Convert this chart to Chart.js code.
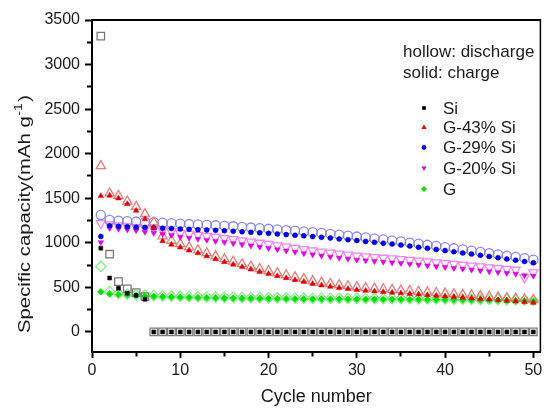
<!DOCTYPE html>
<html>
<head>
<meta charset="utf-8">
<script src="https://cdn.jsdelivr.net/npm/chart.js@4/dist/chart.umd.min.js"></script>
<style>
html,body{margin:0;padding:0;background:#fff;}
#wrap{width:547px;height:408px;}
</style>
</head>
<body>
<div id="wrap"><canvas id="c" width="547" height="408"></canvas></div>
<script>
// ---------- data ----------
const cycles = [1,2,3,4,5,6,7,8,9,10,11,12,13,14,15,16,17,18,19,20,21,22,23,24,25,26,27,28,29,30,31,32,33,34,35,36,37,38,39,40,41,42,43,44,45,46,47,48,49,50];

const siDischarge = [3320,872,565,483,441,396,0,0,0,0,0,0,0,0,0,0,0,0,0,0,0,0,0,0,0,0,0,0,0,0,0,0,0,0,0,0,0,0,0,0,0,0,0,0,0,0,0,0,0,0];
const siCharge    = [940,605,490,434,412,367,0,0,0,0,0,0,0,0,0,0,0,0,0,0,0,0,0,0,0,0,0,0,0,0,0,0,0,0,0,0,0,0,0,0,0,0,0,0,0,0,0,0,0,0];

const g43Discharge = [1863,1556,1530,1465,1405,1325,1230,1075,1025,988,950,918,885,850,818,790,762,735,708,685,660,638,615,595,572,555,540,527,515,503,495,488,481,474,467,460,453,446,439,432,425,418,411,404,397,390,383,376,369,360];
const g43Charge    = [1526,1530,1500,1436,1361,1265,1171,1020,980,950,915,884,851,817,785,757,729,702,675,652,627,605,583,563,540,523,508,495,483,471,463,456,449,442,435,428,421,414,407,400,393,386,379,372,365,358,351,344,337,328];

const g29Discharge = [1313,1257,1248,1242,1238,1234,1230,1225,1220,1215,1210,1205,1200,1196,1191,1185,1178,1171,1164,1157,1150,1142,1135,1127,1118,1110,1100,1090,1080,1070,1059,1048,1037,1026,1015,1002,990,977,964,951,938,925,912,898,884,870,856,842,828,810];
const g29Charge    = [1072,1192,1185,1180,1176,1172,1168,1164,1160,1156,1152,1148,1144,1140,1136,1130,1124,1118,1112,1106,1099,1092,1085,1078,1070,1062,1053,1044,1035,1026,1016,1006,996,986,975,963,951,939,926,913,900,887,874,861,847,833,819,805,791,775];

const g20Discharge = [1220,1205,1195,1186,1177,1166,1155,1143,1130,1110,1099,1088,1076,1064,1052,1039,1026,1012,999,985,970,956,942,927,913,900,888,876,865,854,846,838,831,823,816,807,798,789,780,771,761,752,742,733,723,714,705,696,610,667];
const g20Charge    = [1006,1163,1155,1147,1138,1121,1110,1098,1085,1066,1054,1043,1031,1019,1007,994,981,967,954,940,925,911,897,882,868,855,843,831,820,809,801,793,786,778,771,762,753,744,735,726,716,707,697,688,678,669,660,651,635,628];

const gDischarge = [735,452,432,423,418,412,408,404,401,398,396,394,392,391,389,388,386,385,384,383,382,381,380,379,378,378,377,377,376,376,375,375,374,374,373,373,372,372,371,370,369,368,367,366,365,363,361,359,356,353];
const gCharge    = [450,428,421,415,410,404,400,396,393,390,388,386,384,383,381,380,378,377,376,375,374,373,372,371,370,370,369,369,368,368,367,367,366,366,365,365,364,364,363,362,361,360,359,358,357,355,353,351,348,345];

const seriesNames = ['Si','G-43% Si','G-29% Si','G-20% Si','G'];
const legendNotes = ['hollow: discharge','solid: charge'];
const xTickValues = [0,5,10,15,20,25,30,35,40,45,50];
const xTickLabels = [0,10,20,30,40,50];
const yTickValues = [0,250,500,750,1000,1250,1500,1750,2000,2250,2500,2750,3000,3250,3500];
const yTickLabels = [0,500,1000,1500,2000,2500,3000,3500];
const xTitle = 'Cycle number';
const yTitleMain = 'Specific capacity(mAh g';
const yTitleSup = '-1';
const yTitleEnd = ')';

// ---------- styles ----------
const FONT = '"Liberation Sans", Arial, Helvetica, sans-serif';
const styles = [
  {shape:'rect',     rot:0,   solid:'#000000', hollow:'#7a7a7a', rDis:5.3, rChg:2.8},
  {shape:'triangle', rot:0,   solid:'#e00000', hollow:'#e87a7a', rDis:5.3, rChg:3.3},
  {shape:'circle',   rot:0,   solid:'#0000e0', hollow:'#8686f0', rDis:4.6, rChg:2.5},
  {shape:'triangle', rot:180, solid:'#e000e0', hollow:'#f084f0', rDis:5.3, rChg:3.3},
  {shape:'rectRot',  rot:0,   solid:'#00e000', hollow:'#86ee86', rDis:5.2, rChg:3.4}
];
const discharge = [siDischarge, g43Discharge, g29Discharge, g20Discharge, gDischarge];
const charge = [siCharge, g43Charge, g29Charge, g20Charge, gCharge];

function pts(vals){ return cycles.map((c,i)=>({x:c, y:vals[i]})); }

const datasets = [];
// solid (charge) first -> drawn on top
seriesNames.forEach((n,i)=>{
  const s = styles[i];
  datasets.push({
    label: n + ' charge', data: pts(charge[i]), showLine:false,
    pointStyle: s.shape, rotation: s.rot, pointRadius: s.rChg,
    pointBackgroundColor: s.solid, pointBorderColor: s.solid, pointBorderWidth: 0.5
  });
});
seriesNames.forEach((n,i)=>{
  const s = styles[i];
  datasets.push({
    label: n + ' discharge', data: pts(discharge[i]), showLine:false,
    pointStyle: s.shape, rotation: s.rot, pointRadius: s.rDis,
    pointBackgroundColor: 'rgba(255,255,255,0)', pointBorderColor: s.hollow, pointBorderWidth: 1.3
  });
});

function drawMarker(ctx, shape, rot, x, y, r, color){
  ctx.save();
  ctx.fillStyle = color;
  ctx.beginPath();
  if (shape === 'rect') {
    const h = r*Math.SQRT1_2; ctx.rect(x-h, y-h, 2*h, 2*h);
  } else if (shape === 'circle') {
    ctx.arc(x, y, r, 0, Math.PI*2);
  } else if (shape === 'triangle') {
    const a = rot*Math.PI/180;
    for (let k=0;k<3;k++){
      const ang = a + k*2*Math.PI/3;
      const px = x + Math.sin(ang)*r, py = y - Math.cos(ang)*r;
      if (k===0) ctx.moveTo(px,py); else ctx.lineTo(px,py);
    }
    ctx.closePath();
  } else if (shape === 'rectRot') {
    ctx.moveTo(x, y-r); ctx.lineTo(x+r, y); ctx.lineTo(x, y+r); ctx.lineTo(x-r, y); ctx.closePath();
  }
  ctx.fill();
  ctx.restore();
}

const decorPlugin = {
  id: 'decor',
  afterDraw(chart){
    const ctx = chart.ctx;
    const a = chart.chartArea;
    // frame top & right
    ctx.save();
    ctx.strokeStyle = '#000';
    ctx.lineWidth = 2;
    ctx.beginPath(); ctx.moveTo(a.left, a.top); ctx.lineTo(a.right, a.top); ctx.stroke();
    ctx.lineWidth = 1.5;
    ctx.beginPath(); ctx.moveTo(a.right, a.top-1); ctx.lineTo(a.right, a.bottom); ctx.stroke();
    ctx.restore();

    // legend
    ctx.save();
    ctx.fillStyle = '#1a1a1a';
    ctx.font = '17px ' + FONT;
    ctx.textBaseline = 'alphabetic';
    ctx.textAlign = 'left';
    ctx.fillText(legendNotes[0], 403, 56.5);
    ctx.fillText(legendNotes[1], 403, 77.5);
    ctx.textBaseline = 'middle';
    const ys = [108, 127.5, 147.5, 168, 189];
    const legR = [2.6, 3.0, 2.4, 3.0, 3.0];
    seriesNames.forEach((n,i)=>{
      const s = styles[i];
      drawMarker(ctx, s.shape, s.rot, 424, ys[i], legR[i], s.solid);
      ctx.fillStyle = '#1a1a1a';
      ctx.fillText(n, 443, ys[i]+1);
    });
    ctx.restore();

    // y axis title, with superscript
    ctx.save();
    ctx.translate(29.5, 333);
    ctx.rotate(-Math.PI/2);
    ctx.scale(1.27, 1);
    ctx.fillStyle = '#1a1a1a';
    ctx.textBaseline = 'alphabetic';
    ctx.textAlign = 'left';
    ctx.font = '16px ' + FONT;
    ctx.fillText(yTitleMain, 0, 0);
    const w1 = ctx.measureText(yTitleMain).width;
    ctx.font = '11px ' + FONT;
    ctx.fillText(yTitleSup, w1 + 0.5, -8);
    const w2 = ctx.measureText(yTitleSup).width;
    ctx.font = '16px ' + FONT;
    ctx.fillText(yTitleEnd, w1 + w2 + 1.5, 0);
    ctx.restore();
  }
};

const chart = new Chart(document.getElementById('c'), {
  type: 'scatter',
  data: { datasets },
  options: {
    responsive: false,
    animation: false,
    devicePixelRatio: 1,
    events: [],
    layout: { padding: { top: 20, right: 3, left: 0, bottom: 0 } },
    plugins: { legend: { display: false }, tooltip: { enabled: false } },
    scales: {
      x: {
        type: 'linear', min: 0, max: 50.8,
        afterFit: (s) => { s.height = 56; },
        afterBuildTicks: (s) => { s.ticks = xTickValues.map(v => ({value: v})); },
        border: { display: true, color: '#000', width: 2 },
        grid: {
          drawOnChartArea: false, drawTicks: true, tickLength: 6, tickWidth: 2, tickColor: '#000',
          tickBorderDash: (c) => (c.tick && xTickLabels.includes(c.tick.value)) ? [] : [3.5, 20],
          tickBorderDashOffset: 0
        },
        ticks: {
          autoSkip: false, maxRotation: 0,
          color: '#1a1a1a', font: { family: FONT, size: 16 }, padding: 3,
          callback: (v) => xTickLabels.includes(v) ? String(v) : ''
        },
        title: { display: true, text: xTitle, color: '#1a1a1a', font: { family: FONT, size: 18 }, padding: { top: 0, bottom: 0 } }
      },
      y: {
        type: 'linear', min: -225, max: 3500,
        afterFit: (s) => { s.width = 92; },
        afterBuildTicks: (s) => { s.ticks = yTickValues.map(v => ({value: v})); },
        border: { display: true, color: '#000', width: 2 },
        grid: {
          drawOnChartArea: false, drawTicks: true, tickLength: 7, tickWidth: 2, tickColor: '#000',
          tickBorderDash: (c) => (c.tick && yTickLabels.includes(c.tick.value)) ? [] : [4, 20],
          tickBorderDashOffset: (c) => (c.tick && yTickLabels.includes(c.tick.value)) ? 0 : 22
        },
        ticks: {
          autoSkip: false,
          color: '#1a1a1a', font: { family: FONT, size: 16 }, padding: 5,
          callback: (v) => yTickLabels.includes(v) ? String(v) : ''
        },
        title: { display: false }
      }
    }
  },
  plugins: [decorPlugin]
});
</script>
</body>
</html>
